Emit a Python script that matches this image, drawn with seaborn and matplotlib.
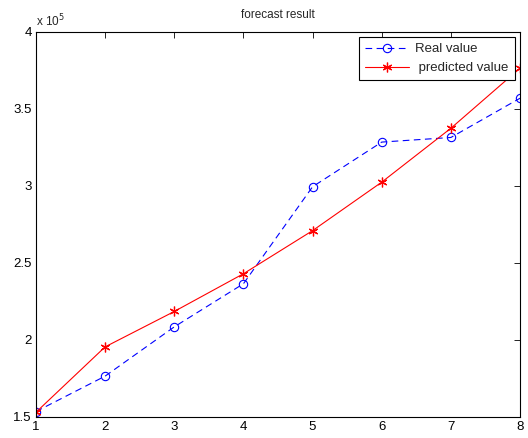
import numpy as np
import pandas as pd
import seaborn as sns
from matplotlib import pyplot as plt
from matplotlib.ticker import FuncFormatter

# values
steps = [1, 2, 3, 4, 5, 6, 7, 8]
real_value = [153500, 176500, 208500, 236500, 299500, 328500, 331500, 357000]
predicted_value = [153000, 195500, 218500, 243000, 271000, 302500, 337500, 376500]

sns.set_style("white")
plt.rcParams['font.family'] = ['Liberation Sans', 'DejaVu Sans']

fig = plt.figure(figsize=(5.28, 4.38), dpi=100)
ax = fig.add_axes([0.068, 0.048, 0.917, 0.879])

sns.lineplot(x=steps, y=real_value, ax=ax, color='blue', linestyle=(0, (6, 4)),
             linewidth=0.8, marker='o', markersize=6, markerfacecolor='none',
             markeredgecolor='blue', markeredgewidth=0.8, label='Real value')
sns.lineplot(x=steps, y=predicted_value, ax=ax, color='red', linestyle='-',
             linewidth=0.8, marker=(6, 2, 0), markersize=7, markeredgewidth=0.9,
             markeredgecolor='red', markerfacecolor='red', label=' predicted value')

ax.set_xlim(1, 8)
ax.set_ylim(150000, 400000)
ax.set_xticks(steps)
ax.set_yticks(np.arange(150000, 400001, 50000))
ax.yaxis.set_major_formatter(FuncFormatter(lambda v, p: '%g' % (v / 1e5)))
ax.tick_params(direction='in', top=True, right=True, length=4, width=0.6,
               labelsize=9.5, colors='black', pad=3)
for s in ax.spines.values():
    s.set_color('black')
    s.set_linewidth(0.8)

ax.text(0.0, 1.008, r'x 10$^5$', transform=ax.transAxes, fontsize=8.5,
        ha='left', va='bottom')
ax.set_title('forecast result', fontsize=8.5, pad=10)

leg = ax.legend(loc='upper right', fontsize=9.5, frameon=True, fancybox=False,
                edgecolor='black', framealpha=1, borderaxespad=0.4,
                handlelength=3.3, borderpad=0.45, labelspacing=0.5,
                handletextpad=0.5)
leg.get_frame().set_linewidth(0.8)

fig.savefig('out.png', dpi=100)
